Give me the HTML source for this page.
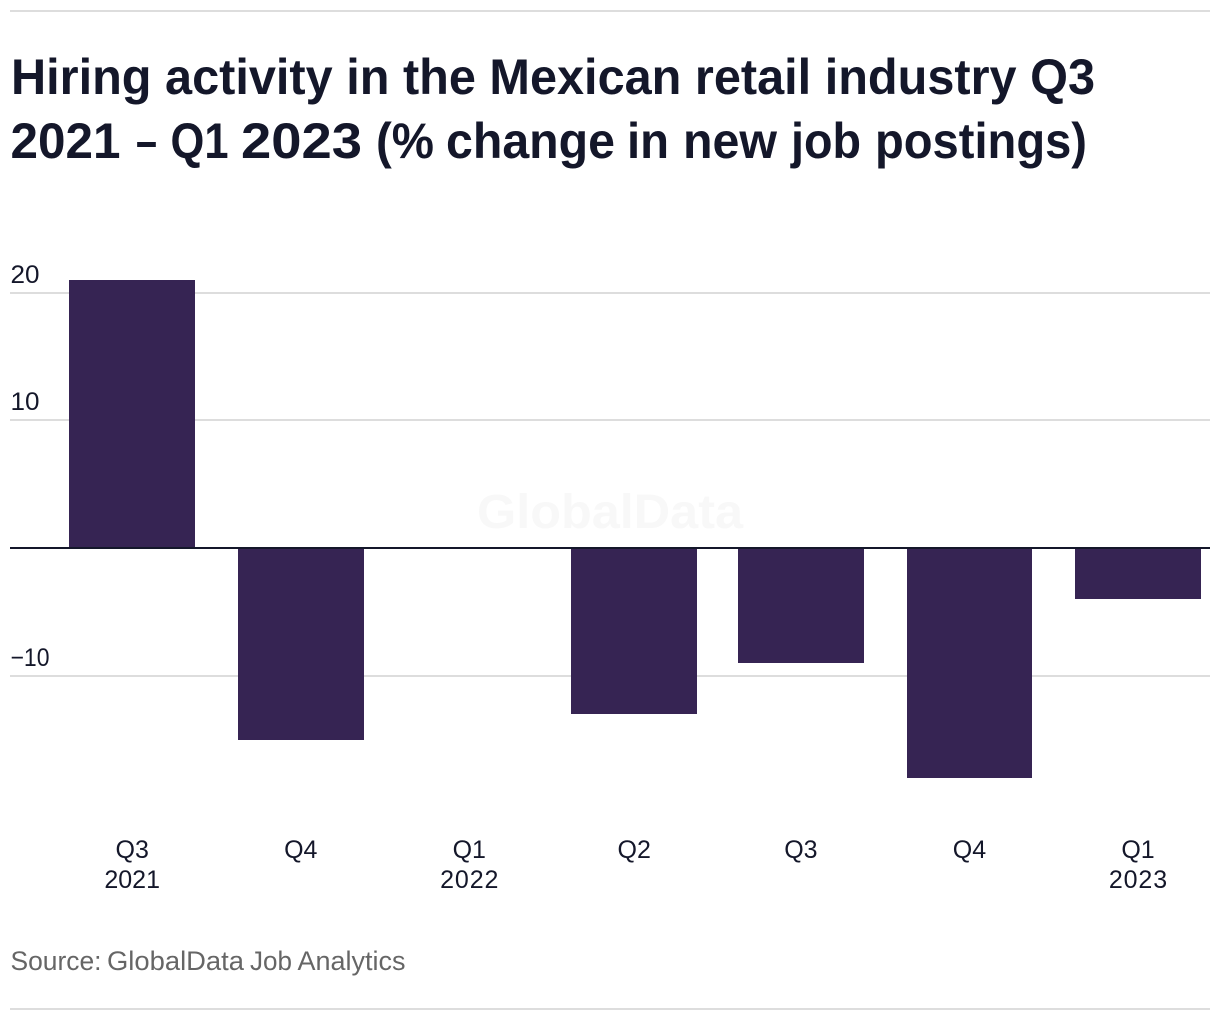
<!DOCTYPE html>
<html lang="en">
<head>
<meta charset="utf-8">
<title>Hiring activity in the Mexican retail industry</title>
<style>
html,body{margin:0;padding:0;background:#fff;width:1220px;height:1020px;overflow:hidden}
svg{display:block;font-family:"Liberation Sans",sans-serif}
</style>
</head>
<body>
<svg id="chart" xmlns="http://www.w3.org/2000/svg" width="1220" height="1020" viewBox="0 0 1220 1020">
  <rect x="10" y="10" width="1200" height="2" fill="#dddddd"/>
  <text x="11" y="94" font-size="50" font-weight="700" fill="#14172a" textLength="1084" lengthAdjust="spacingAndGlyphs">Hiring activity in the Mexican retail industry Q3</text>
  <text y="158" font-size="50" font-weight="700" fill="#14172a"><tspan x="10.5" textLength="110" lengthAdjust="spacingAndGlyphs">2021</tspan> <tspan x="136" textLength="21" lengthAdjust="spacingAndGlyphs">–</tspan> <tspan x="170.5" textLength="58" lengthAdjust="spacingAndGlyphs">Q1</tspan> <tspan x="241" textLength="121" lengthAdjust="spacingAndGlyphs">2023</tspan> <tspan x="376" textLength="58" lengthAdjust="spacingAndGlyphs">(%</tspan> <tspan x="446" textLength="169" lengthAdjust="spacingAndGlyphs">change</tspan> <tspan x="627" textLength="42" lengthAdjust="spacingAndGlyphs">in</tspan> <tspan x="683" textLength="94" lengthAdjust="spacingAndGlyphs">new</tspan> <tspan x="791" textLength="70" lengthAdjust="spacingAndGlyphs">job</tspan> <tspan x="875" textLength="212" lengthAdjust="spacingAndGlyphs">postings)</tspan></text>
  <text x="610" y="528" font-size="48" font-weight="700" fill="#f8f8f8" text-anchor="middle" textLength="266" lengthAdjust="spacingAndGlyphs">GlobalData</text>
  <g id="grid"></g>
  <g id="bars"></g>
  <rect x="10" y="547" width="1200" height="2" fill="#14172a"/>
  <g id="xlabels"></g>
  <text y="970" font-size="27" fill="#666666"><tspan x="10.5" textLength="91" lengthAdjust="spacingAndGlyphs">Source:</tspan> <tspan x="107" textLength="137" lengthAdjust="spacingAndGlyphs">GlobalData</tspan> <tspan x="250" textLength="42" lengthAdjust="spacingAndGlyphs">Job</tspan> <tspan x="297.5" textLength="108" lengthAdjust="spacingAndGlyphs">Analytics</tspan></text>
  <rect x="10" y="1008" width="1200" height="2" fill="#dddddd"/>
</svg>
<script>
const quarterStarts = ['2021-07-01','2021-10-01','2022-01-01','2022-04-01','2022-07-01','2022-10-01','2023-01-01'];
const quarterLabels = ['Q3','Q4','Q1','Q2','Q3','Q4','Q1'];
const yearLabels = ['2021','','2022','','','','2023'];
const changeValues = [21,-15,0,-13,-9,-18,-4];
const yTicks = [20,10,-10];
const yTickLabels = ['20','10','−10'];

const NS = 'http://www.w3.org/2000/svg';
const firstTime = Date.parse(quarterStarts[0]);
const lastTime = Date.parse(quarterStarts[quarterStarts.length - 1]);
const barHalfWidth = 62.8;
function xScale(dateString) {
  return 132.2 + (Date.parse(dateString) - firstTime) / (lastTime - firstTime) * 1005.8;
}
function yScale(value) {
  return Math.round(548 - value * 12.77);
}
function make(tag, attrs, text) {
  const el = document.createElementNS(NS, tag);
  for (const key in attrs) el.setAttribute(key, attrs[key]);
  if (text !== undefined) el.textContent = text;
  return el;
}
const grid = document.getElementById('grid');
yTicks.forEach(function (tick, i) {
  const y = yScale(tick);
  const line = make('rect', {x: 10, y: y - 1, width: 1200, height: 2, fill: '#dddddd'});
  
  
  grid.appendChild(line);
  const fitted = yTickLabels[i].length > 2 ? 39 : 29;
  const label = make('text', {x: 10.5, y: y - 10, 'font-size': 25, fill: '#14172a', textLength: fitted, lengthAdjust: 'spacingAndGlyphs'}, yTickLabels[i]);
  
  
  grid.appendChild(label);
});
const bars = document.getElementById('bars');
changeValues.forEach(function (value, i) {
  const cx = xScale(quarterStarts[i]);
  const left = Math.round(cx - barHalfWidth);
  const right = Math.round(cx + barHalfWidth);
  const y0 = yScale(0);
  const yv = yScale(value);
  const bar = make('rect', {
    x: left,
    y: Math.min(y0, yv),
    width: right - left,
    height: Math.abs(yv - y0),
    fill: '#362453'
  });
  
  
  bars.appendChild(bar);
});
const xlabels = document.getElementById('xlabels');
quarterLabels.forEach(function (label, i) {
  const cx = xScale(quarterStarts[i]);
  const q = make('text', {x: cx, y: 858, 'font-size': 25, fill: '#14172a', 'text-anchor': 'middle'}, label);
  
  
  xlabels.appendChild(q);
  if (yearLabels[i]) {
    const spacing = yearLabels[i].endsWith('1') ? 0 : 0.9;
    const yr = make('text', {x: cx + spacing / 2, y: 888, 'font-size': 25, fill: '#14172a', 'text-anchor': 'middle', 'letter-spacing': spacing}, yearLabels[i]);
    
    
    xlabels.appendChild(yr);
  }
});
</script>
</body>
</html>
